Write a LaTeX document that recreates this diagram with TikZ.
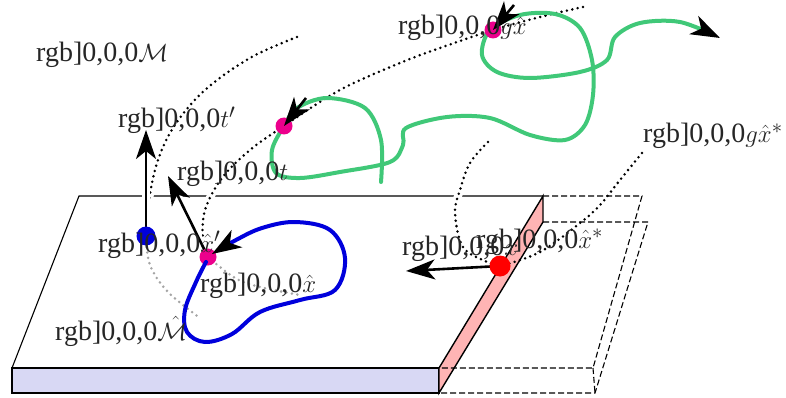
\documentclass[tikz,border=0pt]{standalone}
\usepackage{fontspec}
\setmainfont{Liberation Serif}
\usetikzlibrary{arrows.meta}
\definecolor{gcurve}{RGB}{64,200,120}
\definecolor{bcurve}{RGB}{0,0,220}
\definecolor{pinkface}{RGB}{255,180,180}
\definecolor{frontface}{RGB}{216,216,244}
\definecolor{greydot}{RGB}{165,165,165}
\begin{document}
\begin{tikzpicture}[x=1pt,y=-1pt,
  lbl/.style={anchor=base west, inner sep=0pt, font=\fontsize{28}{30}\selectfont, text=black!85},
  dotline/.style={line width=2.8pt, dash pattern=on 0pt off 5.5pt, line cap=round},
  halo/.style={preaction={draw=white, line width=8pt, solid, arrows=-}},
  bigtip/.style={-{Stealth[length=29pt,width=20pt,inset=8pt,color=black]}},
  bigarrow/.style={line width=2.6pt, bigtip},
  dashedge/.style={line width=1.1pt, dash pattern=on 6pt off 3pt},
  dot/.style={circle, inner sep=0pt, minimum size=#1},
  dot/.default=17pt]
\useasboundingbox (0,0) rectangle (786,398);

% slab
\coordinate (tl) at (79,196);
\coordinate (tr) at (543,196);
\coordinate (trb) at (543,222);
\coordinate (fr) at (439,368);
\coordinate (frb) at (439,393);
\coordinate (fl) at (12,368);
\coordinate (flb) at (12,393);
\fill[white] (tl) -- (tr) -- (fr) -- (fl) -- cycle;
\draw[line width=1.1pt] (fl) -- (tl) -- (tr);
\draw[line width=1.4pt, fill=frontface] (fl) rectangle (frb);
\draw[line width=1.4pt, fill=pinkface] (tr) -- (trb) -- (frb) -- (fr) -- cycle;

% dashed continuation
\coordinate (dtr) at (642,196);
\coordinate (dtrb) at (648,222);
\coordinate (dfr) at (593,368);
\coordinate (dfrb) at (595,393);
\draw[dashedge] (tr) -- (dtr) -- (dfr) -- (fr);
\draw[dashedge] (trb) -- (dtrb) -- (dfrb) -- (frb);
\draw[dashedge] (dfr) -- (dfrb);

% dots positions
\coordinate (pbd) at (146,236);
\coordinate (pxh) at (208,257);
\coordinate (pm1) at (284,126);
\coordinate (pgx) at (493,30);
\coordinate (prd) at (500,266);

% dotted curves
\draw[dotline, halo] plot[smooth, tension=0.6] coordinates {(297,37) (250,58) (205,90) (175,125) (158,160) (149,200) (146,236)};
\draw[dotline, greydot] plot[smooth, tension=0.6] coordinates {(146,236) (150,265) (168,292) (200,318)};
\draw[dotline, halo] plot[smooth, tension=0.6] coordinates {(583,7) (540,17) (493,30) (440,48) (400,63) (340,90) (284,126) (250,150) (222,178) (205,210) (203,240) (208,257)};
\draw[dotline, greydot] plot[smooth, tension=0.6] coordinates {(208,257) (235,278) (260,287) (300,295)};
\draw[dotline, halo] plot[smooth, tension=0.6] coordinates {(488,142) (470,163) (460,190) (455,213) (463,247) (485,261) (500,266)};
\draw[dotline] plot[smooth, tension=0.6] coordinates {(642,153) (620,180) (600,205) (580,223) (540,252) (500,266)};

% green trajectory
\draw[gcurve, line width=4pt, line cap=round, bigtip]
  plot[smooth, tension=0.55] coordinates {(381,182) (381,140) (365,108) (327,98) (297,108) (284,126) (272,150) (276,173) (300,178) (340,172) (390,162) (403,145) (406,128) (447,117) (490,118) (530,135) (565,140) (585,125) (593,95) (592,60) (580,28) (555,14) (520,15) (490,30) (482,55) (497,72) (530,78) (580,72) (607,60) (615,37) (640,23) (680,22) (720,38)};

% vectors from dots
\coordinate (bt) at (146,130);
\coordinate (xt) at (168,176);
\coordinate (rt) at (406,271);
\draw[bigarrow, halo] (pbd) -- (bt);
\draw[bigarrow, halo] (pxh) -- (xt);
\draw[bigarrow] (prd) -- (rt);

% dots
\node[dot=19pt, fill=bcurve] (bd) at (pbd) {};
\node[dot, fill=magenta] (xh) at (pxh) {};
\node[dot, fill=magenta] (m1) at (pm1) {};
\node[dot, fill=magenta] (gx) at (pgx) {};
\node[dot=21pt, fill=red] (rd) at (prd) {};

% blue loop ending in a tip at x-hat
\draw[bcurve, line width=4pt, line cap=round, bigtip]
  plot[smooth, tension=0.6] coordinates {(206,262) (196,282) (185,310) (187,332) (205,342) (232,334) (260,312) (300,300) (335,290) (345,258) (330,230) (295,222) (262,228) (236,240) (212,254)};

% small tangent heads
\coordinate (a2) at (306,98);
\coordinate (a3) at (514,5);
\draw[bigarrow] (a2) -- (m1.center);
\draw[bigarrow] (a3) -- (gx.center);

% labels
\node[lbl] (lM) at (36,62) {rgb]0,0,0$\mathcal{M}$};
\node[lbl] (ltp) at (118,128) {rgb]0,0,0$t'$};
\node[lbl] (lt) at (177,180) {rgb]0,0,0$t$};
\node[lbl] (lgx) at (398,35) {rgb]0,0,0$g\hat{x}$};
\node[lbl] (lgxs) at (643,143) {rgb]0,0,0$g\hat{x}^*$};
\node[lbl] (lxp) at (98,252) {rgb]0,0,0$\hat{x}'$};
\node[lbl] (lx) at (200,292) {rgb]0,0,0$\hat{x}$};
\node[lbl] (lMh) at (55,340) {rgb]0,0,0$\hat{\mathcal{M}}$};
\node[lbl] (lxr) at (402,255) {rgb]0,0,0$x$};
\node[lbl] (lxs) at (476,248) {rgb]0,0,0$\hat{x}^*$};
\end{tikzpicture}
\end{document}
